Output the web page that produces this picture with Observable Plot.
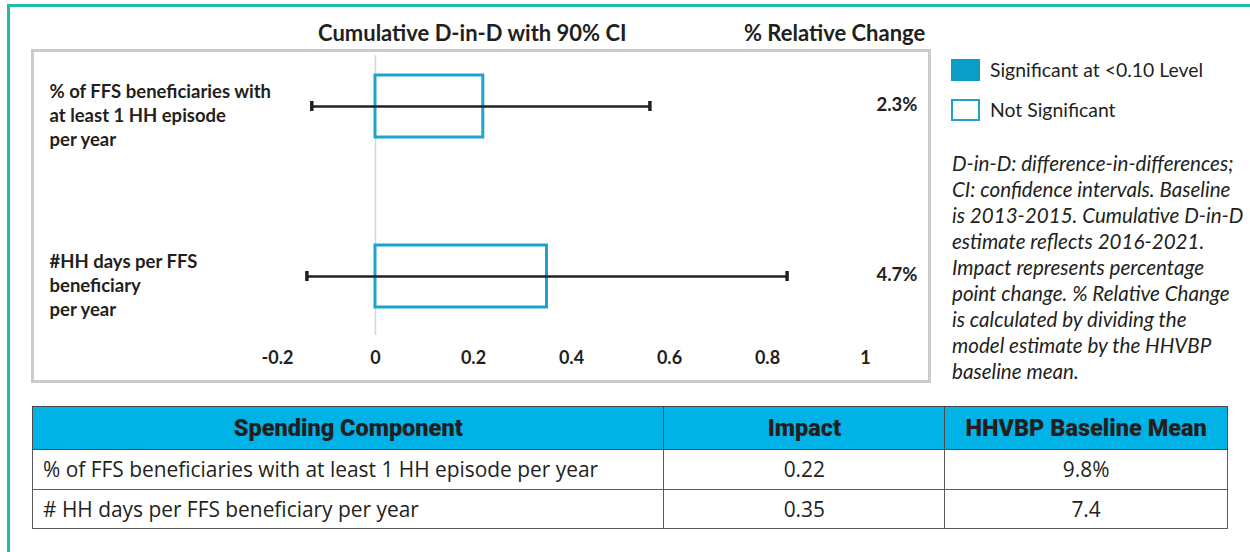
<!DOCTYPE html>
<html>
<head>
<meta charset="utf-8">
<script src="https://cdn.jsdelivr.net/npm/d3@7"></script>
<script src="https://cdn.jsdelivr.net/npm/@observablehq/plot@0.6"></script>
<style>
  body { margin: 0; background: #fff; width: 1250px; height: 552px; position: relative; overflow: hidden;
         font-family: Lato, "Open Sans", sans-serif; color: #231f20; }
  .frame-top { position: absolute; left: 7px; top: 4px; width: 1243px; height: 2.5px; background: #1dbfa6; }
  .frame-left { position: absolute; left: 7px; top: 4px; width: 2.5px; height: 548px; background: #1dbfa6; }
  .panel { position: absolute; left: 31px; top: 49px; width: 894px; height: 328px; border: 3px solid #cbcbcb; }
  .panel svg { position: absolute; left: 0; top: 0; overflow: visible; }
  .head { position: absolute; top: 19px; font-weight: bold; font-size: 22px; white-space: nowrap; }
  .swatch { position: absolute; left: 951px; width: 29px; height: 22px; box-sizing: border-box; }
  .legend-text { position: absolute; left: 990px; font-size: 19.4px; line-height: 24px; white-space: nowrap; }
  .note { position: absolute; left: 952px; top: 150px; font-size: 20.6px; font-style: italic; line-height: 26px; white-space: nowrap; }
  table { position: absolute; left: 32px; top: 406px; width: 1196px; border-collapse: collapse;
          font-family: "Open Sans", sans-serif; color: #231f20; }
  th { background: #00b2e6; font-family: Roboto, sans-serif; font-weight: 900; font-size: 23.5px; height: 42px;
       border: 1.5px solid #4a4a4a; padding: 0; }
  td { font-size: 20.9px; height: 38.5px; border: 1.5px solid #5a5a5a; padding: 0 0 0 10px; }
  td.num { text-align: center; padding: 0; }
</style>
</head>
<body>
<div class="frame-top"></div>
<div class="frame-left"></div>
<div class="head" id="title-ci" style="left:318px">Cumulative D-in-D with 90% CI</div>
<div class="head" id="title-rel" style="left:744px">% Relative Change</div>
<div class="panel" id="panel"></div>
<div id="legend"></div>
<div class="note" id="note"></div>
<table id="tbl"></table>
<script>
// Measures shown as rows of the chart (line breaks as drawn) and in the table
const chartLabels = [
  "% of FFS beneficiaries with\nat least 1 HH episode\nper year",
  "#HH days per FFS\nbeneficiary\nper year"
];
const tableLabels = [
  "% of FFS beneficiaries with at least 1 HH episode per year",
  "# HH days per FFS beneficiary per year"
];
// Cumulative D-in-D estimate and 90% confidence interval
const impact = [0.22, 0.35];
const ciLow = [-0.13, -0.14];
const ciHigh = [0.56, 0.84];
const significant = [false, false];
// % relative change and HHVBP baseline mean
const relChange = [2.3, 4.7];
const baselineMean = ["9.8%", "7.4"];
// Axis ticks
const xTicks = [-0.2, 0, 0.2, 0.4, 0.6, 0.8, 1];
// Legend and note
const legendItems = [
  {label: "Significant at <0.10 Level", filled: true},
  {label: "Not Significant", filled: false}
];
const noteLines = [
  "D-in-D: difference-in-differences;",
  "CI: confidence intervals. Baseline",
  "is 2013-2015. Cumulative D-in-D",
  "estimate reflects 2016-2021.",
  "Impact represents percentage",
  "point change. % Relative Change",
  "is calculated by dividing the",
  "model estimate by the HHVBP",
  "baseline mean."
];
const tableHeaders = ["Spending Component", "Impact", "HHVBP Baseline Mean"];

const BLUE = "#1ca3d0";
const FILL = "#0a9ec7";

const rows = chartLabels.map((label, i) => ({
  label, impact: impact[i], lo: ciLow[i], hi: ciHigh[i], sig: significant[i], rel: relChange[i]
}));

const fmtTick = d => d === 0 ? "0" : d === 1 ? "1" : d.toFixed(1);

const chart = Plot.plot({
  width: 894,
  height: 328,
  marginLeft: 243,
  marginRight: 63,
  marginTop: 23,
  marginBottom: 72,
  x: {domain: [-0.2, 1]},
  y: {domain: chartLabels, paddingInner: 0.633, paddingOuter: 0, axis: null},
  style: {fontFamily: "Lato, sans-serif", fontSize: "18px", color: "#231f20", background: "transparent"},
  marks: [
    Plot.ruleX([0], {stroke: "#d6d6d6", strokeWidth: 1.5, insetTop: -20, insetBottom: -27}),
    Plot.barX(rows, {
      x1: 0, x2: "impact", y: "label",
      fill: d => d.sig ? FILL : "#ffffff",
      stroke: BLUE, strokeWidth: 3
    }),
    Plot.ruleY(rows, {x1: "lo", x2: "hi", y: "label", stroke: "#231f20", strokeWidth: 2.7}),
    Plot.tickX(rows, {x: "lo", y: "label", stroke: "#231f20", strokeWidth: 3.5, insetTop: 26, insetBottom: 26}),
    Plot.tickX(rows, {x: "hi", y: "label", stroke: "#231f20", strokeWidth: 3.5, insetTop: 26, insetBottom: 26}),
    Plot.text(rows, {
      y: "label", text: d => d.rel.toFixed(1) + "%",
      frameAnchor: "right", dx: 52, dy: -1, textAnchor: "end", fontWeight: "bold", fontSize: 18.5
    }),
    Plot.text(rows, {
      y: "label", text: "label",
      frameAnchor: "left", dx: -228, dy: 8, textAnchor: "start",
      fontWeight: "bold", fontSize: 18.5, lineHeight: 1.3
    }),
    Plot.axisX({ticks: xTicks, tickFormat: fmtTick, tickSize: 0, tickPadding: 43,
                fontWeight: "bold", fontSize: 18, label: null})
  ]
});
document.getElementById("panel").appendChild(chart);

// Legend swatches
const legend = document.getElementById("legend");
legendItems.forEach((item, i) => {
  const top = 59 + i * 40;
  const sw = document.createElement("div");
  sw.className = "swatch";
  sw.style.top = top + "px";
  if (item.filled) sw.style.background = FILL;
  else { sw.style.background = "#fff"; sw.style.border = "2.5px solid " + BLUE; }
  legend.appendChild(sw);
  const tx = document.createElement("div");
  tx.className = "legend-text";
  tx.style.top = (top - 1) + "px";
  tx.textContent = item.label;
  legend.appendChild(tx);
});

// Note text
document.getElementById("note").innerHTML = noteLines.map(s => s.replace(/</g, "&lt;")).join("<br>");

// Table
const tbl = document.getElementById("tbl");
const colW = [632, 281, 283];
let html = "<colgroup>" + colW.map(w => `<col style="width:${w}px">`).join("") + "</colgroup>";
html += "<tr>" + tableHeaders.map(h => `<th>${h}</th>`).join("") + "</tr>";
tableLabels.forEach((lab, i) => {
  html += `<tr><td>${lab}</td><td class="num">${impact[i].toFixed(2)}</td><td class="num">${baselineMean[i]}</td></tr>`;
});
tbl.innerHTML = html;
</script>
</body>
</html>
